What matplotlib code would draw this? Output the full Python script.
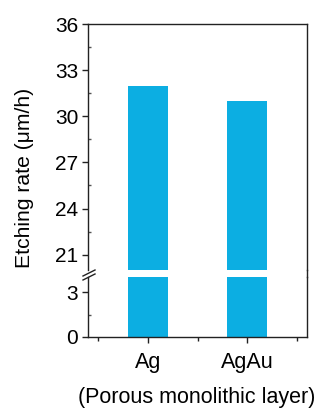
import matplotlib.pyplot as plt
from matplotlib.lines import Line2D
from matplotlib.ticker import FixedLocator

plt.rcParams['font.family'] = ['Liberation Sans', 'DejaVu Sans']

samples = ['Ag', 'AgAu']
etch_rate = [32.0, 31.0]
upper_ticks = [21, 24, 27, 30, 33, 36]
lower_ticks = [0, 3]
bar_color = '#0CAEE2'

fig = plt.figure(figsize=(3.26, 4.12), dpi=100)
W, H = 326, 412
left, right = 88 / W, 307 / W
ax_up = fig.add_axes([left, 1 - 270 / H, right - left, (270 - 24) / H])
ax_lo = fig.add_axes([left, 1 - 337 / H, right - left, (337 - 277) / H])

x = [1, 2]
for ax in (ax_up, ax_lo):
    ax.bar(x, etch_rate, width=0.4, color=bar_color)
    ax.set_xlim(0.4, 2.6)
    for s in ax.spines.values():
        s.set_linewidth(1.0)
        s.set_color('#222222')
    ax.tick_params(axis='y', which='major', direction='out', length=4, width=1,
                   labelsize=15, pad=3, colors='#222222')
    ax.tick_params(axis='y', which='minor', direction='in', length=2.5, width=1,
                   colors='#555555')
    ax.tick_params(labelcolor='black')

ax_up.set_ylim(20, 36)
ax_up.set_yticks(upper_ticks)
ax_up.yaxis.set_minor_locator(FixedLocator([22.5, 25.5, 28.5, 31.5, 34.5]))
ax_up.spines['bottom'].set_visible(False)
ax_up.tick_params(axis='x', bottom=False, labelbottom=False)

ax_lo.set_ylim(0, 4)
ax_lo.set_yticks(lower_ticks)
ax_lo.yaxis.set_minor_locator(FixedLocator([1.5]))
ax_lo.spines['top'].set_visible(False)
ax_lo.set_xticks(x)
ax_lo.set_xticklabels(samples)
ax_lo.xaxis.set_minor_locator(FixedLocator([0.5, 1.5, 2.5]))
ax_lo.tick_params(axis='x', which='major', direction='out', length=4.5, width=1,
                  labelsize=15.5, pad=6, colors='#222222', labelcolor='black')
ax_lo.tick_params(axis='x', which='minor', direction='out', length=3, width=1,
                  colors='#222222')

# right spine runs through the gap, left one gets break marks
fig.add_artist(Line2D([right, right], [1 - 277 / H, 1 - 270 / H],
                      transform=fig.transFigure, color='#222222', lw=1.0))
for dy in (0, 4):
    fig.add_artist(Line2D([83 / W, 95 / W],
                          [1 - (276 + dy) / H, 1 - (270 + dy) / H],
                          transform=fig.transFigure, color='#222222', lw=1.0))

fig.text(25 / W, 1 - 178 / H, 'Etching rate (\u03bcm/h)', rotation=90,
         ha='center', va='center', fontsize=15.2)
fig.text(197 / W, 1 - 397 / H, '(Porous monolithic layer)',
         ha='center', va='center', fontsize=15.5)

fig.savefig('out.png', dpi=100)
